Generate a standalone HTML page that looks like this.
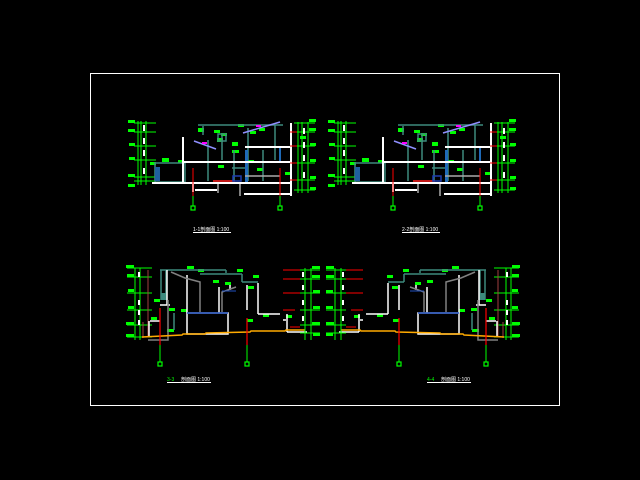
<!DOCTYPE html>
<html><head><meta charset="utf-8"><style>
html,body{margin:0;padding:0;background:#000;width:640px;height:480px;overflow:hidden}
svg{display:block}
text{font-family:"Liberation Sans","Noto Sans CJK SC",sans-serif}
</style></head><body>
<svg width="640" height="480" viewBox="0 0 640 480" xmlns="http://www.w3.org/2000/svg">
<rect x="0" y="0" width="640" height="480" fill="#000"/>
<rect x="90.5" y="73.5" width="469" height="332" fill="none" stroke="#fff" stroke-width="1"/>

<defs>
<g id="top">
 <!-- left dims -->
 <g stroke="#00ff00" stroke-width="1">
  <line x1="138" y1="121" x2="138" y2="185"/><line x1="141" y1="121" x2="141" y2="185"/><line x1="146" y1="121" x2="146" y2="185"/>
  <line x1="134" y1="123" x2="156" y2="123"/><line x1="134" y1="132" x2="156" y2="132"/><line x1="134" y1="146" x2="156" y2="146"/>
  <line x1="134" y1="160" x2="156" y2="160"/><line x1="134" y1="177" x2="156" y2="177"/><line x1="134" y1="181" x2="156" y2="181"/>
 </g>
 <g fill="#00ff00">
  <rect x="128" y="120" width="7" height="3"/><rect x="128" y="129" width="7" height="3"/><rect x="129" y="143" width="6" height="3"/>
  <rect x="129" y="157" width="6" height="3"/><rect x="128" y="174" width="7" height="3"/><rect x="128" y="184" width="7" height="3"/>
  <rect x="150" y="162" width="6" height="3"/><rect x="162" y="158" width="7" height="4"/><rect x="178" y="160" width="6" height="3"/>
  <rect x="198" y="128" width="6" height="4"/><rect x="214" y="130" width="6" height="3"/><rect x="221" y="133" width="6" height="3"/>
  <rect x="238" y="124" width="6" height="3"/><rect x="250" y="131" width="6" height="3"/><rect x="259" y="128" width="6" height="3"/>
  <rect x="217" y="138" width="6" height="4"/><rect x="232" y="142" width="6" height="4"/><rect x="232" y="150" width="7" height="3"/>
  <rect x="248" y="160" width="6" height="3"/><rect x="257" y="168" width="6" height="3"/><rect x="285" y="172" width="6" height="3"/>
  <rect x="218" y="165" width="6" height="3"/><rect x="300" y="136" width="6" height="3"/>
 </g>
 <g fill="#fff">
  <rect x="143" y="125" width="2" height="6"/><rect x="143" y="138" width="2" height="6"/><rect x="143" y="150" width="2" height="6"/><rect x="143" y="168" width="2" height="6"/>
 </g>
 <!-- building -->
 <g fill="none" stroke="#3d8a7e" stroke-width="1.5">
  <rect x="155" y="163" width="30" height="19"/>
  <line x1="198" y1="125" x2="283" y2="125"/>
  <line x1="203" y1="126" x2="203" y2="135"/>
  <line x1="208" y1="140" x2="208" y2="181"/>
  <line x1="222" y1="135" x2="222" y2="160"/>
  <line x1="234" y1="150" x2="234" y2="181"/>
  <line x1="248" y1="128" x2="248" y2="181"/>
  <line x1="263" y1="150" x2="263" y2="181"/>
  <line x1="275" y1="125" x2="275" y2="160"/>
  <rect x="218" y="134" width="8" height="7"/>
  <line x1="232" y1="168" x2="245" y2="168"/>
 </g>
 <rect x="155" y="167" width="5" height="14" fill="#1f5fa0"/>
 <rect x="245" y="150" width="3" height="32" fill="#1f6ab8"/>
 <rect x="279" y="146" width="2" height="16" fill="#1f6ab8"/>
 <g stroke="#fff" stroke-width="2" fill="none">
  <line x1="183" y1="137" x2="183" y2="184"/>
  <line x1="152" y1="183" x2="292" y2="183"/>
  <line x1="183" y1="162" x2="291" y2="162"/>
  <line x1="245" y1="147" x2="291" y2="147"/>
  <line x1="291" y1="123" x2="291" y2="196"/>
  <line x1="195" y1="190" x2="217" y2="190"/>
  <line x1="244" y1="194" x2="290" y2="194"/>
  <line x1="193" y1="184" x2="193" y2="192"/>
 </g>
 <g stroke="#aaaaaa" stroke-width="1.5">
  <line x1="194" y1="141" x2="216" y2="149" stroke="#9090ff"/>
  <line x1="243" y1="133" x2="280" y2="122" stroke="#9090ff"/>
  <line x1="218" y1="184" x2="218" y2="193"/>
  <line x1="240" y1="184" x2="240" y2="196"/>
  <line x1="245" y1="176" x2="280" y2="176"/>
 </g>
 <rect x="202" y="142" width="5" height="2" fill="#ff00ff"/><rect x="256" y="125" width="5" height="2" fill="#ff00ff"/>
 <line x1="213" y1="181" x2="235" y2="181" stroke="#ff2020" stroke-width="1.5"/>
 <rect x="233" y="176" width="8" height="5" fill="none" stroke="#1f3fb0" stroke-width="1.5"/>
 <!-- red axes -->
 <line x1="193" y1="168" x2="193" y2="196" stroke="#ff0000"/>
 <line x1="193" y1="196" x2="193" y2="206" stroke="#00ff00"/>
 <rect x="191" y="206" width="4" height="4" fill="none" stroke="#00ff00" stroke-width="1.2"/>
 <line x1="280" y1="168" x2="280" y2="196" stroke="#ff0000"/>
 <line x1="280" y1="196" x2="280" y2="206" stroke="#00ff00"/>
 <rect x="278" y="206" width="4" height="4" fill="none" stroke="#00ff00" stroke-width="1.2"/>
 <!-- right dims -->
 <g stroke="#00ff00" stroke-width="1">
  <line x1="298" y1="122" x2="298" y2="193"/><line x1="302" y1="122" x2="302" y2="193"/><line x1="308" y1="122" x2="308" y2="193"/>
  <line x1="294" y1="123" x2="315" y2="123"/><line x1="294" y1="132" x2="315" y2="132"/><line x1="294" y1="146" x2="315" y2="146"/>
  <line x1="294" y1="163" x2="315" y2="163"/><line x1="294" y1="180" x2="315" y2="180"/><line x1="294" y1="190" x2="315" y2="190"/>
 </g>
 <g stroke="#ff0000"><line x1="290" y1="132" x2="297" y2="132"/><line x1="290" y1="146" x2="297" y2="146"/><line x1="290" y1="163" x2="297" y2="163"/><line x1="290" y1="180" x2="297" y2="180"/></g>
 <g fill="#00ff00"><rect x="309" y="119" width="7" height="3"/><rect x="309" y="128" width="7" height="3"/><rect x="310" y="143" width="6" height="3"/><rect x="310" y="159" width="6" height="3"/><rect x="310" y="176" width="6" height="3"/><rect x="310" y="187" width="6" height="3"/></g>
 <g fill="#fff"><rect x="303" y="128" width="2" height="6"/><rect x="303" y="142" width="2" height="6"/><rect x="303" y="155" width="2" height="6"/><rect x="303" y="172" width="2" height="6"/></g>
</g>

<g id="bot">
 <g stroke="#00ff00" stroke-width="1">
  <line x1="135" y1="268" x2="135" y2="340"/><line x1="140" y1="268" x2="140" y2="340"/>
  <line x1="127" y1="268" x2="152" y2="268"/><line x1="127" y1="277" x2="152" y2="277"/><line x1="127" y1="293" x2="152" y2="293"/>
  <line x1="127" y1="310" x2="152" y2="310"/><line x1="127" y1="325" x2="152" y2="325"/><line x1="127" y1="337" x2="152" y2="337"/>
 </g>
 <line x1="148" y1="270" x2="148" y2="336" stroke="#a04040"/>
 <line x1="143" y1="322" x2="143" y2="338" stroke="#a04040"/>
 <g fill="#00ff00"><rect x="126" y="265" width="8" height="3"/><rect x="127" y="274" width="7" height="3"/><rect x="128" y="289" width="6" height="3"/><rect x="128" y="306" width="6" height="3"/><rect x="126" y="322" width="8" height="3"/><rect x="126" y="334" width="8" height="3"/>
  <rect x="154" y="299" width="6" height="3"/><rect x="151" y="317" width="6" height="3"/><rect x="169" y="308" width="6" height="3"/><rect x="181" y="309" width="6" height="3"/>
  <rect x="187" y="266" width="7" height="3"/><rect x="198" y="269" width="6" height="3"/><rect x="237" y="269" width="6" height="3"/><rect x="253" y="275" width="6" height="3"/>
  <rect x="213" y="280" width="6" height="3"/><rect x="225" y="282" width="6" height="3"/><rect x="248" y="286" width="6" height="3"/><rect x="247" y="319" width="6" height="3"/>
  <rect x="263" y="314" width="6" height="3"/><rect x="286" y="315" width="6" height="3"/><rect x="167" y="329" width="7" height="3"/></g>
 <g fill="#fff"><rect x="138" y="272" width="2" height="5"/><rect x="138" y="300" width="2" height="5"/><rect x="138" y="310" width="2" height="5"/><rect x="138" y="320" width="2" height="5"/></g>
 <g fill="none" stroke="#3d8a7e" stroke-width="1.5">
  <line x1="160" y1="270" x2="226" y2="270"/>
  <line x1="226" y1="270" x2="226" y2="273"/>
  <line x1="200" y1="274" x2="242" y2="274"/>
  <line x1="242" y1="274" x2="242" y2="282"/><line x1="242" y1="282" x2="258" y2="282"/>
  <line x1="161" y1="270" x2="161" y2="300"/><line x1="166" y1="270" x2="166" y2="300"/>
  <line x1="174" y1="313" x2="174" y2="330"/>
 </g>
 <rect x="161" y="293" width="5" height="7" fill="#3d8a7e"/>
 <g stroke="#fff" stroke-width="1.5" fill="none">
  <line x1="167" y1="270" x2="167" y2="305"/>
  <line x1="160" y1="305" x2="170" y2="305"/>
  <line x1="150" y1="321" x2="160" y2="321"/>
  <line x1="149" y1="321" x2="149" y2="336"/>
  <line x1="187" y1="275" x2="187" y2="313"/>
  <rect x="187" y="313" width="41" height="21"/>
  <line x1="219" y1="287" x2="219" y2="313"/>
  <line x1="230" y1="285" x2="230" y2="290"/>
  <line x1="247" y1="285" x2="247" y2="310"/>
  <line x1="258" y1="283" x2="258" y2="314"/>
  <line x1="258" y1="314" x2="280" y2="314"/>
  <line x1="283" y1="320" x2="286" y2="320"/>
  <line x1="287" y1="314" x2="287" y2="332"/>
  <line x1="287" y1="332" x2="307" y2="332"/>
 </g>
 <g stroke="#808080" stroke-width="1.5" fill="none">
  <polyline points="171,272 185,278 200,282 200,314"/>
  <polyline points="236,287 222,292 222,312"/>
  <polyline points="168,300 168,340 148,340"/>
 </g>
 <line x1="187" y1="313" x2="228" y2="313" stroke="#1f4fc0" stroke-width="1.5"/>
 <line x1="222" y1="291" x2="236" y2="291" stroke="#1f4fc0" stroke-width="1"/>
 <polyline points="142,337 182,335 183,334 205,334 206,333 250,332 251,331 285,331 286,330 305,330" fill="none" stroke="#ffaa00" stroke-width="1.5"/>
 <line x1="160" y1="308" x2="160" y2="345" stroke="#ff0000" stroke-width="1.2"/>
 <line x1="160" y1="345" x2="160" y2="362" stroke="#00ff00"/>
 <rect x="158" y="362" width="4" height="4" fill="none" stroke="#00ff00" stroke-width="1.2"/>
 <line x1="247" y1="318" x2="247" y2="345" stroke="#ff0000" stroke-width="1.2"/>
 <line x1="247" y1="345" x2="247" y2="362" stroke="#00ff00"/>
 <rect x="245" y="362" width="4" height="4" fill="none" stroke="#00ff00" stroke-width="1.2"/>
 <g stroke="#00ff00" stroke-width="1">
  <line x1="305" y1="268" x2="305" y2="340"/><line x1="311" y1="268" x2="311" y2="340"/>
  <line x1="300" y1="270" x2="320" y2="270"/><line x1="300" y1="279" x2="320" y2="279"/><line x1="300" y1="293" x2="320" y2="293"/>
  <line x1="300" y1="310" x2="320" y2="310"/><line x1="300" y1="325" x2="320" y2="325"/><line x1="300" y1="333" x2="320" y2="333"/>
 </g>
 <g stroke="#ff0000"><line x1="283" y1="270" x2="300" y2="270"/><line x1="283" y1="279" x2="300" y2="279"/><line x1="283" y1="293" x2="300" y2="293"/><line x1="283" y1="310" x2="295" y2="310"/><line x1="290" y1="327" x2="300" y2="327"/></g>
 <g fill="#00ff00"><rect x="312" y="266" width="8" height="3"/><rect x="312" y="275" width="8" height="3"/><rect x="313" y="290" width="7" height="3"/><rect x="313" y="306" width="7" height="3"/><rect x="312" y="322" width="8" height="3"/><rect x="313" y="333" width="7" height="3"/></g>
 <g fill="#fff"><rect x="302" y="272" width="2" height="5"/><rect x="302" y="285" width="2" height="5"/><rect x="302" y="300" width="2" height="5"/><rect x="302" y="316" width="2" height="5"/></g>
</g>
</defs>

<use href="#top"/>
<use href="#top" transform="translate(200,0) scale(1.0)"/>
<use href="#bot"/>
<use href="#bot" transform="translate(646,0) scale(-1,1)"/>

<!-- titles -->
<g fill="#fff" font-size="5">
 <text x="193" y="231">1-1剖面图 1:100</text>
 <rect x="193" y="232" width="38" height="1"/>
 <text x="402" y="231">2-2剖面图 1:100</text>
 <rect x="402" y="232" width="38" height="1"/>
 <text x="167" y="381" fill="#00ff00">3-3</text><text x="181" y="381">剖面图 1:100</text>
 <rect x="167" y="382" width="44" height="1"/>
 <text x="427" y="381" fill="#00ff00">4-4</text><text x="441" y="381">剖面图 1:100</text>
 <rect x="427" y="382" width="44" height="1"/>
</g>
</svg>
</body></html>
